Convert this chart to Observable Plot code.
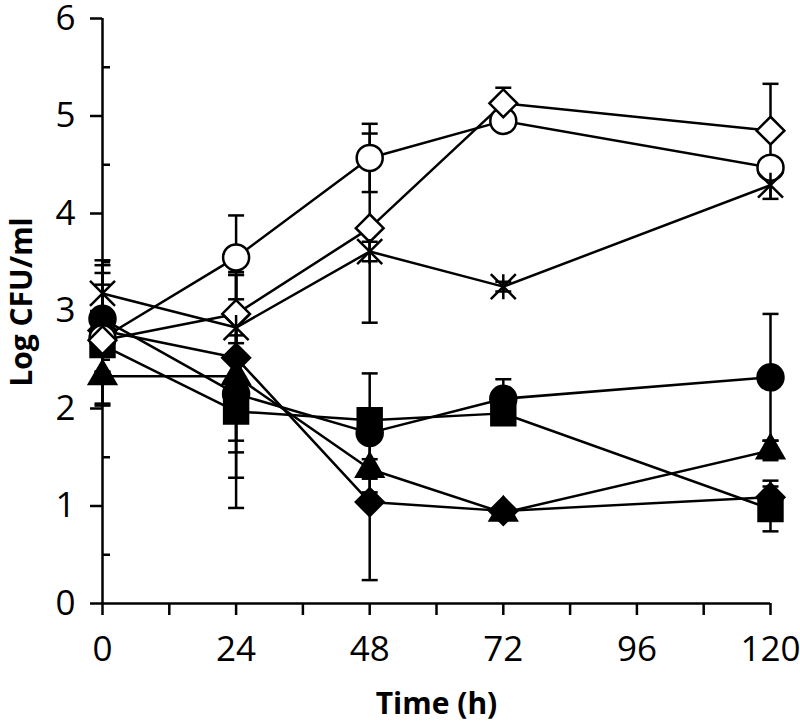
<!DOCTYPE html>
<html>
<head>
<meta charset="utf-8">
<script src="https://cdn.jsdelivr.net/npm/d3@7"></script>
<script src="https://cdn.jsdelivr.net/npm/@observablehq/plot@0.6"></script>
<style>
  html, body { margin: 0; padding: 0; background: #fff; }
</style>
</head>
<body>
<div id="chart"></div>
<script>
// ---- data ----
const times = [0, 24, 48, 72, 120];

const filledCircle      = [2.92, 2.15, 1.75, 2.10, 2.32];
const filledCircleErr   = [0.55, 0.60, 0.61, 0.20, 0.65];
const filledSquare      = [2.65, 1.97, 1.88, 1.95, 0.97];
const filledSquareErr   = [0.62, 0.99, 0.10, 0.10, 0.23];
const filledTriangle    = [2.33, 2.33, 1.38, 0.93, 1.57];
const filledTriangleErr = [0.05, 1.04, 0.10, 0.05, 0.10];
const filledDiamond     = [2.80, 2.52, 1.04, 0.95, 1.09];
const filledDiamondErr  = [0.10, 0.85, 0.80, 0.05, 0.17];
const openCircle        = [2.72, 3.55, 4.57, 4.95, 4.47];
const openCircleErr     = [0.67, 0.43, 0.35, 0.05, 0.10];
const openDiamond       = [2.70, 2.97, 3.85, 5.13, 4.85];
const openDiamondErr    = [0.10, 0.43, 0.97, 0.16, 0.48];
const asteriskSeries    = [3.18, 2.83, 3.61, 3.25, 4.29];
const asteriskErr       = [0.34, 0.16, 0.10, 0.05, 0.14];

const xTicks = [0, 12, 24, 36, 48, 60, 72, 84, 96, 108, 120];
const xLabels = [0, 24, 48, 72, 96, 120];
const yTicks = [0, 1, 2, 3, 4, 5, 6];
const yMinorTicks = [0.5, 1.5, 2.5, 3.5, 4.5, 5.5];
const xTitle = "Time (h)";
const yTitle = "Log CFU/ml";

// ---- custom symbols ----
const starSymbol = {
  draw(ctx, size) {
    const h = Math.sqrt(size / Math.PI);
    ctx.moveTo(-h, -h); ctx.lineTo(h, h);
    ctx.moveTo(-h, h); ctx.lineTo(h, -h);
    ctx.moveTo(0, -h); ctx.lineTo(0, h);
  }
};
const capSymbol = {
  draw(ctx, size) {
    const w = Math.sqrt(size / Math.PI);
    ctx.moveTo(-w, 0); ctx.lineTo(w, 0);
  }
};

const SW = 2.5;

const series = [
  {values: filledCircle,   err: filledCircleErr,   symbol: "circle",   fill: "black", r: 13},
  {values: filledSquare,   err: filledSquareErr,   symbol: "square",   fill: "black", r: 13.5},
  {values: filledTriangle, err: filledTriangleErr, symbol: "triangle", fill: "black", r: 10},
  {values: filledDiamond,  err: filledDiamondErr,  symbol: "diamond2", fill: "black", r: 12.5},
  {values: openCircle,     err: openCircleErr,     symbol: "circle",   fill: "white", r: 13},
  {values: openDiamond,    err: openDiamondErr,    symbol: "diamond2", fill: "white", r: 12.5},
  {values: asteriskSeries, err: asteriskErr,       symbol: starSymbol, fill: "none",  r: 12.5}
].map(s => ({...s, rows: times.map((t, i) => ({t, v: s.values[i], e: s.err[i]}))}));

const marks = [];
// axes lines
marks.push(Plot.ruleY([0], {stroke: "black", strokeWidth: SW}));
marks.push(Plot.ruleX([0], {stroke: "black", strokeWidth: SW}));
// x axis
marks.push(Plot.axisX({
  ticks: xTicks,
  tickFormat: d => xLabels.includes(d) ? String(d) : "",
  tickSize: 12, tickPadding: 21, strokeWidth: SW,
  fontSize: 35, label: null
}));
// y axis major
marks.push(Plot.axisY({
  ticks: yTicks, tickFormat: d => String(d),
  tickSize: 12, tickPadding: 15, strokeWidth: SW,
  fontSize: 35, label: null
}));
// y axis minor (inward)
marks.push(Plot.axisY({
  ticks: yMinorTicks, tickSize: 8, dx: 8, strokeWidth: SW,
  tickFormat: () => "", label: null
}));

// lines
for (const s of series) {
  marks.push(Plot.line(s.rows, {x: "t", y: "v", stroke: "black", strokeWidth: SW}));
}
// error bars
for (const s of series) {
  marks.push(Plot.ruleX(s.rows, {x: "t", y1: d => d.v - d.e, y2: d => d.v + d.e, stroke: "black", strokeWidth: SW}));
  marks.push(Plot.dot(s.rows, {x: "t", y: d => d.v + d.e, symbol: capSymbol, r: 8, stroke: "black", strokeWidth: SW}));
  marks.push(Plot.dot(s.rows, {x: "t", y: d => d.v - d.e, symbol: capSymbol, r: 8, stroke: "black", strokeWidth: SW}));
}
// markers
for (const s of series) {
  marks.push(Plot.dot(s.rows, {x: "t", y: "v", symbol: s.symbol, r: s.r, fill: s.fill, stroke: "black", strokeWidth: SW}));
}
// titles
marks.push(Plot.text([xTitle], {frameAnchor: "bottom", lineAnchor: "middle", textAnchor: "middle", dy: 101, fontSize: 30, fontWeight: "bold", fill: "black"}));
marks.push(Plot.text([yTitle], {frameAnchor: "left", textAnchor: "middle", lineAnchor: "middle", dx: -80, dy: -9, rotate: -90, fontSize: 30, fontWeight: "bold", fill: "black"}));

const chart = Plot.plot({
  width: 800,
  height: 728,
  marginTop: 18,
  marginBottom: 125,
  marginLeft: 102,
  marginRight: 30,
  style: {fontFamily: "'Open Sans', sans-serif", color: "black", background: "white", overflow: "visible"},
  x: {domain: [0, 120]},
  y: {domain: [0, 6]},
  marks
});
document.getElementById("chart").appendChild(chart);
</script>
</body>
</html>
